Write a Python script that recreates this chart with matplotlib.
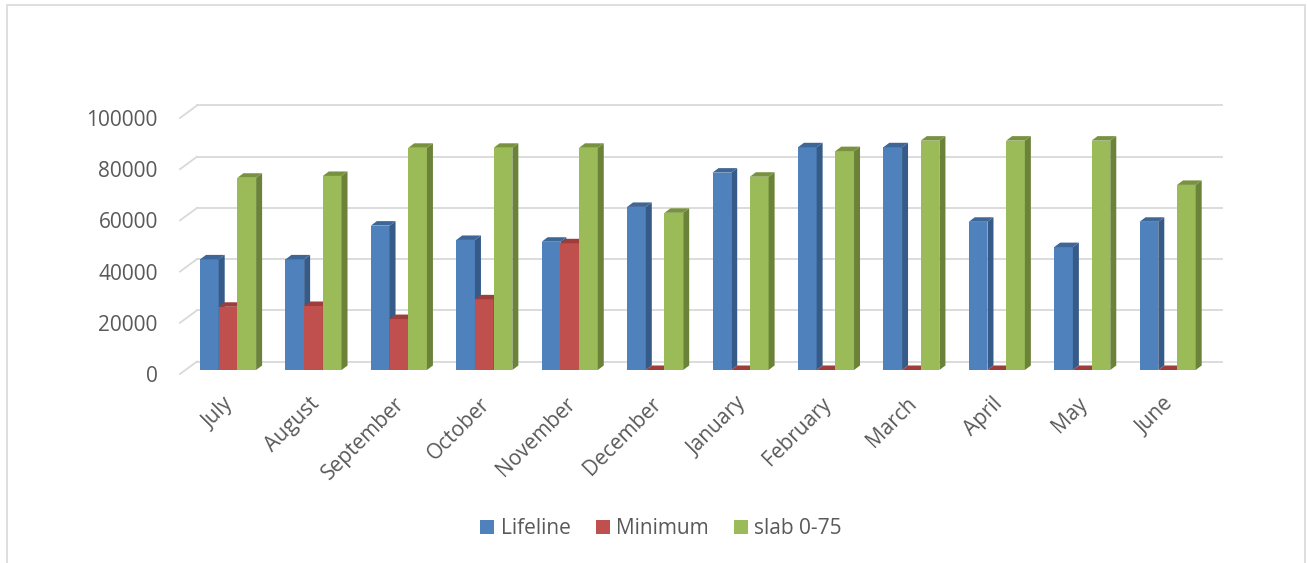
import matplotlib.pyplot as plt
from matplotlib.patches import Polygon, Rectangle, Patch
from matplotlib.transforms import ScaledTranslation

months = ["July", "August", "September", "October", "November", "December",
          "January", "February", "March", "April", "May", "June"]
lifeline = [43200, 43200, 56400, 50800, 50100, 63700,
            77100, 87000, 87000, 57900, 48000, 57900]
minimum = [24700, 25000, 19900, 27600, 49500, 0,
           0, 0, 0, 0, 0, 0]
slab = [75100, 75800, 86800, 86800, 86800, 61400,
        75500, 85500, 89600, 89600, 89600, 72300]
series_names = ["Lifeline", "Minimum", "slab 0-75"]
y_ticks = [0, 20000, 40000, 60000, 80000, 100000]

# front, side and top face colours for each series
face_colors = [("#4F81BD", "#365B88", "#3E6697"),
               ("#C0504D", "#8C3533", "#9E3D3A"),
               ("#9BBB59", "#6B8339", "#78923F")]
grid_color = "#D9D9D9"
text_color = "#595959"

plt.rcParams['font.family'] = ['Open Sans', 'DejaVu Sans']

W, H, DPI = 1307, 563, 100
fig = plt.figure(figsize=(W / DPI, H / DPI), dpi=DPI)

# the axes is the front plane of the 3-D floor
ax_l, ax_b, ax_w, ax_h = 180, 189, 1025, 281.6
ymax = 110000
ax = fig.add_axes([ax_l / W, ax_b / H, ax_w / W, ax_h / H])
ax.set_xlim(-0.5, len(months) - 0.5)
ax.set_ylim(0, ymax)
ax.set_facecolor('none')
for s in ax.spines.values():
    s.set_visible(False)

cat_px = ax_w / len(months)
val_px = ax_h / ymax


def depth(dx_px, dy_px):
    # pixel offset into the chart depth -> data units
    return dx_px / cat_px, dy_px / val_px


wall_dx, wall_dy = depth(17, 12.5)
front_dx, front_dy = depth(5.4, 4)
bar_dx, bar_dy = depth(6, 4.5)
bar_w = 18.7 / cat_px
x0_off = -28.1 / cat_px

# back wall gridlines and the side-wall diagonals
x_left, x_right = ax.get_xlim()
for v in y_ticks:
    ax.plot([x_left + wall_dx, x_right + wall_dx], [v + wall_dy] * 2,
            color=grid_color, lw=1.3, clip_on=False, zorder=0)
    ax.plot([x_left, x_left + wall_dx], [v, v + wall_dy],
            color=grid_color, lw=1.3, clip_on=False, zorder=0)

# 3-D columns
for i in range(len(months)):
    for k, values in enumerate([lifeline, minimum, slab]):
        front, side, top_c = face_colors[k]
        v = values[i]
        x0 = i + x0_off + k * bar_w + front_dx
        base = front_dy
        top = v + front_dy
        ax.add_patch(Rectangle((x0, base), bar_w, v, facecolor=front,
                               lw=0, clip_on=False, zorder=2))
        ax.add_patch(Polygon([(x0 + bar_w, base),
                              (x0 + bar_w + bar_dx, base + bar_dy),
                              (x0 + bar_w + bar_dx, top + bar_dy),
                              (x0 + bar_w, top)],
                             facecolor=side, lw=0, clip_on=False, zorder=2))
        ax.add_patch(Polygon([(x0, top), (x0 + bar_dx, top + bar_dy),
                              (x0 + bar_w + bar_dx, top + bar_dy),
                              (x0 + bar_w, top)],
                             facecolor=top_c, lw=0, clip_on=False, zorder=2))

ax.set_yticks(y_ticks)
ax.set_yticklabels([str(v) for v in y_ticks])
ax.tick_params(axis='y', length=0, pad=16, labelsize=15,
               labelcolor=text_color)
ax.set_xticks([])

# rotated month labels below the floor
label_shift = ScaledTranslation(8 / DPI, -27 / DPI, fig.dpi_scale_trans)
for i, m in enumerate(months):
    ax.text(i, 0, m, rotation=45, rotation_mode='anchor', ha='right',
            va='center', fontsize=15, color=text_color,
            transform=ax.transData + label_shift, clip_on=False)

handles = [Patch(facecolor=c[0], edgecolor='none') for c in face_colors]
fig.legend(handles, series_names, loc='center',
           bbox_to_anchor=(661 / W, 1 - 529 / H), ncol=3, frameon=False,
           handlelength=0.68, handleheight=0.68, handletextpad=0.3,
           columnspacing=1.2, fontsize=15, labelcolor=text_color)

# chart border
fig.add_artist(Rectangle((7 / W, -0.1), (1305 - 7) / W, 1.1 - 5 / H,
                         transform=fig.transFigure, fill=False,
                         edgecolor=grid_color, lw=1.2))

fig.savefig("out.png", dpi=DPI)
